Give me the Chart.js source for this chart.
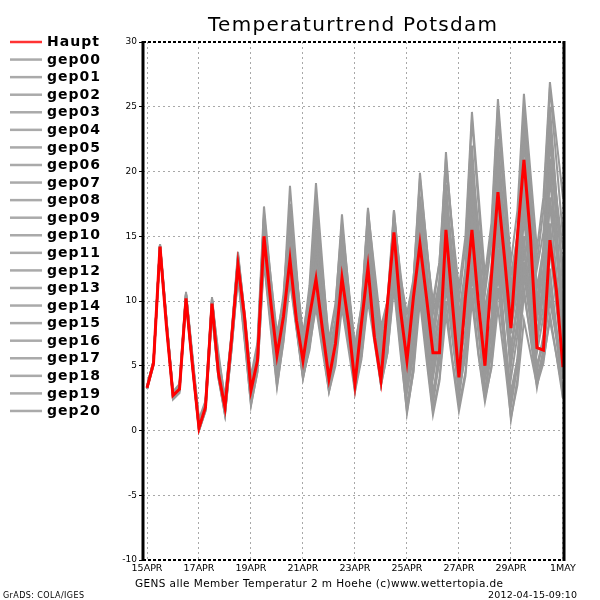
<!DOCTYPE html>
<html>
<head>
<meta charset="utf-8">
<title>Temperaturtrend Potsdam</title>
<script src="https://cdn.jsdelivr.net/npm/chart.js@4.4.1/dist/chart.umd.min.js"></script>
<style>
  html, body { margin: 0; padding: 0; background: #fff; }
  #wrap { width: 600px; height: 600px; position: relative; }
</style>
</head>
<body>
<div id="wrap"><canvas id="myChart"></canvas></div>
<script>
// Stunden ab 15APR 00Z, 6-stuendlich
const hours = [0,6,12,18,24,30,36,42,48,54,60,66,72,78,84,90,96,102,108,114,120,126,132,138,144,150,156,162,168,174,180,186,192,198,204,210,216,222,228,234,240,246,252,258,264,270,276,282,288,294,300,306,312,318,324,330,336,342,348,354,360,366,372,378,384];
const tickHours = [0,48,96,144,192,240,288,336,384];
const tickLabels = ['15APR','17APR','19APR','21APR','23APR','25APR','27APR','29APR','1MAY'];

const haupt = [3.3,5.2,14.2,8.0, 2.7,3.2,10.2,5.0, 0.2,1.8,9.8,4.4, 1.8,7.0,12.8,8.8, 3.1,5.4,15.0,10.1, 5.8,8.8,13.2,8.5, 5.4,8.8,11.7,7.8, 4.0,6.7,11.8,8.3, 3.6,8.3,12.6,7.2, 3.9,9.8,15.3,9.3, 5.4,10.3,14.4,10.3, 6.0,6.0,15.5,9.8, 4.1,10.3,15.5,9.8, 5.0,11.9,18.4,13.4, 7.9,15.0,20.9,15.0, 6.4,6.2,14.7,10.8, 4.9];
const gep00 = [3.3,5.2,14.3,8.1, 2.8,3.3,10.4,5.2, 0.4,2.0,10.0,4.6, 1.6,6.8,13.0,8.6, 3.0,5.6,15.6,10.4, 5.5,8.5,14.0,9.5, 5.0,7.5,12.5,8.5, 4.5,7.0,13.0,8.5, 4.0,7.0,13.8,9.4, 5.0,8.0,14.5,10.2, 6.0,9.0,15.8,10.6, 5.5,8.0,17.0,11.5, 6.0,9.0,16.5,11.7, 7.0,10.5,19.5,14.0, 8.5,11.5,18.0,12.5, 7.0,9.5,16.0,11.0, 6.0];
const gep01 = [3.4,5.3,14.2,8.2, 2.6,3.2,10.6,5.4, 0.5,1.9,9.6,4.8, 2.2,7.3,13.4,8.9, 3.8,6.2,16.8,11.5, 6.5,9.8,17.5,12.0, 6.5,10.0,18.0,11.8, 5.5,8.5,15.5,10.8, 6.0,9.0,16.0,11.8, 7.5,10.0,16.5,12.2, 8.0,11.5,19.5,14.5, 9.5,13.0,21.0,15.5, 10.0,14.2,24.0,17.5, 11.0,15.2,25.0,18.5, 12.0,15.0,22.0,17.5, 13.0,17.0,26.5,20.8, 15.0];
const gep02 = [3.2,5.1,14.0,8.2, 2.5,3.1,10.0,5.0, 0.1,1.6,9.2,4.2, 1.3,6.5,12.2,7.4, 2.2,5.0,13.5,8.5, 4.0,7.5,12.0,8.0, 4.5,7.0,10.0,6.5, 3.2,5.5,10.5,7.0, 3.2,5.8,11.0,7.2, 3.8,6.5,12.0,7.0, 2.0,5.0,11.0,6.0, 1.5,4.0,10.0,5.5, 2.0,4.5,11.0,6.0, 2.5,4.8,9.5,5.5, 1.0,3.5,8.5,6.0, 3.5,5.2,9.0,5.8, 2.5];
const gep03 = [3.3,5.3,14.4,8.4, 2.9,3.4,10.3,5.5, 0.6,2.1,10.2,5.0, 2.5,7.2,13.6,9.0, 3.5,6.0,16.2,11.5, 6.8,10.0,18.9,12.5, 6.0,9.5,15.0,10.0, 5.0,8.0,14.0,9.2, 4.5,7.0,12.5,8.5, 6.0,9.0,16.0,11.5, 7.0,10.0,17.0,11.8, 6.5,9.0,14.0,10.5, 7.5,10.8,18.5,13.8, 9.0,12.6,21.0,15.5, 10.0,14.2,24.0,16.5, 9.0,12.5,20.0,15.0, 10.0];
const gep04 = [3.2,5.1,14.1,8.0, 2.6,3.1,10.1,4.9, 0.0,1.6,9.4,4.2, 1.2,6.3,12.0,7.6, 2.5,5.2,14.0,9.5, 5.0,8.0,12.5,8.7, 4.8,7.0,11.0,7.2, 3.5,6.2,12.5,7.8, 3.0,6.6,15.0,9.5, 4.0,7.0,13.5,8.2, 3.0,6.0,12.5,7.5, 2.5,6.5,16.0,9.8, 3.5,6.6,14.0,9.2, 5.0,8.8,17.5,10.8, 4.0,7.3,15.0,10.0, 5.0,7.1,12.0,8.0, 4.0];
const gep05 = [3.4,5.4,14.3,8.3, 2.7,3.3,10.5,5.3, 0.3,1.9,10.1,5.0, 2.0,7.1,13.2,8.6, 3.3,5.8,15.2,10.5, 6.0,9.6,15.0,11.0, 7.0,11.2,19.1,12.8, 6.5,9.5,16.7,11.0, 5.5,8.0,14.0,10.0, 6.5,9.0,15.0,11.0, 7.5,10.6,18.0,12.8, 8.0,11.3,19.0,13.5, 9.0,12.5,20.5,15.8, 10.5,14.5,24.0,17.5, 11.0,15.2,25.0,18.8, 12.5,15.3,22.0,18.0, 14.0];
const gep06 = [3.3,5.2,14.2,8.0, 2.7,3.2,10.2,5.1, 0.2,1.8,9.7,4.5, 1.6,6.8,12.6,8.0, 2.8,5.5,14.6,9.8, 4.6,8.0,13.5,9.4, 5.2,8.0,12.0,7.8, 3.5,5.8,11.0,7.5, 4.0,6.5,12.0,8.2, 4.5,7.8,14.0,8.8, 3.5,6.5,13.0,7.8, 2.5,5.5,12.0,7.5, 3.0,6.2,13.5,8.8, 4.0,6.5,12.0,7.5, 3.0,5.5,10.5,7.5, 4.5,7.4,14.0,9.5, 5.0];
const gep07 = [3.3,5.1,14.0,8.4, 2.9,3.4,10.4,5.5, 0.5,2.0,9.9,6.0, 2.3,7.2,13.0,8.3, 3.6,6.0,15.8,11.0, 6.2,9.5,16.0,10.8, 5.5,8.2,13.0,9.0, 4.8,7.0,12.0,8.5, 5.0,8.8,17.2,12.0, 7.0,10.0,17.0,11.8, 6.5,9.2,15.5,11.2, 7.0,10.3,18.0,13.0, 8.0,12.2,22.0,14.8, 7.5,11.0,19.0,13.5, 8.0,10.7,17.0,12.0, 7.0,10.8,19.5,14.0, 8.5];
const gep08 = [3.2,5.2,14.3,8.3, 2.5,3.0,10.0,5.0, 0.0,1.5,9.0,4.0, 1.4,6.2,11.8,7.0, 2.0,4.5,13.2,8.5, 3.5,6.8,11.5,7.8, 4.0,6.5,9.5,6.2, 3.0,5.0,9.5,6.3, 3.0,5.5,10.0,6.8, 3.5,6.0,11.0,6.0, 1.5,4.5,10.0,5.5, 1.2,3.8,9.0,5.2, 1.5,4.2,10.0,5.8, 2.2,5.0,11.0,6.5, 2.5,5.5,13.0,8.5, 4.0,6.2,11.0,7.0, 3.0];
const gep09 = [3.3,5.2,14.2,8.2, 2.8,3.3,10.3,5.4, 0.4,1.9,10.0,5.2, 2.0,7.1,13.5,9.2, 4.2,6.8,17.3,12.0, 7.0,10.5,17.0,12.0, 6.8,10.0,16.5,11.0, 6.0,8.5,14.5,9.8, 5.0,8.0,15.5,10.5, 5.5,7.5,12.0,10.0, 8.0,11.5,19.9,14.5, 9.0,11.5,17.5,12.3, 7.0,10.0,16.0,11.5, 8.0,11.6,20.0,14.5, 9.0,12.0,19.0,14.5, 10.0,14.2,24.0,18.0, 12.0];
const gep10 = [3.4,5.3,14.4,8.6, 3.0,3.6,10.7,5.8, 0.9,2.3,10.3,5.6, 2.6,7.5,13.8,9.0, 3.9,6.5,16.5,12.0, 7.5,10.0,15.5,10.8, 6.0,9.0,14.0,9.5, 5.0,8.0,15.0,10.8, 6.5,9.5,16.5,11.2, 6.0,9.0,15.5,10.5, 5.5,8.8,16.5,12.0, 7.5,11.6,21.5,15.0, 8.5,12.0,20.0,14.2, 9.5,12.0,18.0,13.0, 8.0,12.0,21.0,14.2, 7.5,10.5,17.5,12.2, 7.0];
const gep11 = [3.2,5.1,14.1,8.3, 2.6,3.1,10.0,5.0, 0.1,1.7,9.3,4.3, 1.4,6.5,12.4,7.6, 2.6,5.2,14.2,9.0, 4.2,7.5,13.0,8.8, 4.5,6.8,10.5,6.8, 3.0,5.5,11.5,7.5, 3.5,5.8,10.5,7.2, 4.0,7.0,13.0,8.0, 3.0,5.8,11.5,6.8, 2.0,5.5,13.0,7.8, 2.5,6.3,15.0,8.8, 3.0,6.5,14.0,7.8, 1.8,5.0,12.0,8.5, 5.0,6.6,10.0,7.2, 4.5];
const gep12 = [3.3,5.2,14.2,8.3, 2.8,3.3,10.5,5.4, 0.3,1.9,9.8,4.9, 1.9,7.0,13.1,8.2, 3.2,5.6,15.4,10.5, 5.6,9.0,14.5,10.0, 5.8,8.8,13.5,9.0, 4.5,7.2,13.5,9.0, 4.5,7.5,14.5,9.8, 5.0,8.5,16.0,10.2, 4.5,7.5,14.0,9.5, 5.0,8.0,15.0,10.2, 5.5,9.2,18.0,12.2, 6.5,11.0,21.5,14.5, 7.5,12.0,23.0,16.0, 9.0,13.8,25.0,18.0, 11.0];
const gep13 = [3.3,5.3,14.3,8.2, 2.7,3.3,10.4,5.2, 0.3,1.9,9.6,4.6, 1.8,6.9,12.9,8.0, 3.1,5.5,15.0,10.5, 6.0,9.2,16.5,12.0, 7.5,10.5,17.0,12.2, 7.0,9.8,16.0,11.2, 6.5,9.6,17.0,12.5, 8.0,10.0,14.5,11.8, 9.0,11.7,18.0,14.0, 10.0,13.0,20.0,15.5, 11.0,15.0,24.6,18.3, 12.0,16.0,25.6,19.3, 13.0,17.0,26.0,20.0, 14.0,18.0,26.9,22.5, 18.0];
const gep14 = [3.2,5.0,14.0,8.0, 2.4,2.9,9.9,4.8, 0.0,1.5,9.1,4.0, 1.2,6.2,12.1,7.2, 1.9,4.6,13.0,8.0, 3.3,7.0,12.5,8.0, 4.0,6.5,11.5,7.5, 3.5,5.5,10.5,7.0, 3.3,5.8,11.5,7.5, 3.5,6.0,11.5,6.5, 1.3,4.6,12.5,7.5, 3.0,5.5,11.0,7.0, 3.0,5.8,12.0,7.5, 2.8,6.0,13.0,7.0, 0.8,4.0,11.0,7.2, 3.3,6.2,12.5,7.5, 2.5];
const gep15 = [3.4,5.4,14.3,8.5, 2.9,3.5,10.6,5.6, 0.7,2.2,10.2,5.3, 2.4,7.3,13.3,8.5, 3.4,6.0,16.0,11.0, 6.3,9.3,14.8,10.5, 6.2,8.6,12.8,9.0, 5.2,8.0,14.0,9.8, 5.5,8.0,13.0,9.2, 5.5,9.0,17.0,11.5, 6.0,9.2,16.0,11.5, 7.0,10.5,18.5,12.8, 6.5,9.8,17.0,12.5, 8.0,12.3,22.5,16.0, 9.5,12.8,20.0,14.2, 8.5,11.3,18.0,13.8, 9.5];
const gep16 = [3.3,5.1,14.1,8.1, 2.6,3.2,10.2,5.0, 0.2,1.8,9.5,4.5, 1.5,6.6,12.5,7.8, 2.4,5.0,14.4,9.5, 4.4,7.5,12.0,8.0, 4.2,6.2,10.0,7.0, 3.8,6.5,12.0,7.8, 3.8,6.5,12.0,7.8, 3.6,6.8,12.5,8.2, 4.0,7.0,14.0,9.0, 4.0,7.2,13.5,8.8, 4.0,6.8,12.5,8.2, 4.5,8.0,15.0,9.8, 5.0,8.5,16.5,11.0, 6.0,8.8,15.5,11.0, 6.5];
const gep17 = [3.3,5.2,14.2,8.4, 2.8,3.3,10.3,5.3, 0.4,2.0,9.9,5.0, 2.1,7.0,13.0,8.2, 3.3,5.8,15.2,10.8, 6.4,9.5,16.8,11.8, 6.5,9.2,15.5,10.5, 5.8,8.0,13.5,9.5, 5.2,8.0,14.0,10.0, 6.2,8.8,15.0,10.5, 7.0,10.2,17.5,12.5, 8.0,10.5,16.5,12.0, 7.5,11.0,19.0,13.2, 8.5,11.5,18.5,14.5, 10.5,14.8,25.0,18.0, 11.0,14.0,21.0,16.8, 12.5];
const gep18 = [3.4,5.3,14.4,8.6, 2.9,3.5,10.5,5.6, 0.6,2.1,10.1,5.2, 2.2,7.1,13.4,8.6, 3.5,6.0,15.9,10.5, 5.2,8.5,14.2,9.5, 4.6,7.0,11.0,7.0, 3.2,5.5,10.5,7.0, 3.5,6.5,13.0,8.5, 4.2,7.0,13.5,9.2, 5.0,8.0,15.0,9.8, 4.5,7.5,14.5,9.0, 3.5,6.5,13.0,8.2, 4.0,7.5,16.0,10.8, 5.5,8.0,14.0,9.0, 4.0,5.5,8.5,5.8, 3.0];
const gep19 = [3.3,5.2,14.2,8.3, 2.7,3.2,10.1,5.0, 0.2,1.8,9.7,4.6, 1.7,6.8,12.7,7.8, 3.0,5.3,14.8,10.2, 5.9,8.8,14.5,10.0, 5.6,8.5,14.0,9.0, 4.2,6.8,12.5,8.5, 4.8,8.0,15.5,10.0, 5.0,8.2,14.0,9.5, 5.0,8.0,13.5,9.8, 6.0,8.8,15.0,10.5, 6.0,10.5,21.0,13.5, 7.0,10.2,17.0,11.8, 6.5,10.0,18.5,12.8, 7.0,11.0,20.5,14.2, 8.0];
const gep20 = [3.3,5.3,14.3,8.5, 2.8,3.4,10.6,5.5, 0.5,2.0,10.0,5.2, 2.0,7.0,13.2,8.5, 3.7,6.2,16.4,11.5, 6.6,9.5,15.8,11.0, 6.0,8.5,13.8,9.2, 4.5,7.0,12.8,8.5, 4.2,7.0,13.5,8.8, 4.5,8.0,16.5,10.0, 3.5,6.5,13.0,8.8, 4.5,7.0,12.5,8.6, 4.8,7.8,14.5,10.0, 5.5,8.0,13.5,9.8, 6.0,9.5,17.5,12.0, 6.5,12.0,23.0,16.0, 9.0];

const seriesNames = ['Haupt','gep00','gep01','gep02','gep03','gep04','gep05','gep06','gep07','gep08','gep09',
                     'gep10','gep11','gep12','gep13','gep14','gep15','gep16','gep17','gep18','gep19','gep20'];
const seriesValues = [haupt, gep00, gep01, gep02, gep03, gep04, gep05, gep06, gep07, gep08, gep09,
                      gep10, gep11, gep12, gep13, gep14, gep15, gep16, gep17, gep18, gep19, gep20];

const FONT = '"DejaVu Sans", sans-serif';

// Text auf eine feste Breite ziehen (GrADS-Schrift ist breiter)
function fitText(ctx, text, x, y, width) {
    ctx.letterSpacing = '0px';
    const w = ctx.measureText(text).width;
    ctx.letterSpacing = ((width - w) / (text.length - 1)) + 'px';
    ctx.textAlign = 'left';
    ctx.fillText(text, x, y);
    ctx.letterSpacing = '0px';
}

const gradsDeko = {
    id: 'gradsDeko',
    afterDraw(chart) {
        const {ctx, chartArea: a} = chart;
        ctx.save();

        // Rahmen
        ctx.strokeStyle = '#000';
        ctx.lineWidth = 2;
        ctx.setLineDash([3, 2]);
        ctx.beginPath();
        ctx.moveTo(a.left, a.top); ctx.lineTo(a.right, a.top);
        ctx.moveTo(a.left, a.bottom); ctx.lineTo(a.right, a.bottom);
        ctx.stroke();
        ctx.setLineDash([]);
        ctx.lineWidth = 3;
        ctx.beginPath();
        ctx.moveTo(a.left, a.top - 1); ctx.lineTo(a.left, a.bottom + 1);
        ctx.moveTo(a.right, a.top - 1); ctx.lineTo(a.right, a.bottom + 1);
        ctx.stroke();

        // Legende links
        ctx.textBaseline = 'middle';
        ctx.font = 'bold 14px ' + FONT;
        chart.data.datasets.forEach((ds, i) => {
            const y = 42 + i * 17.57;
            ctx.strokeStyle = i === 0 ? '#ff3333' : '#aaaaaa';
            ctx.lineWidth = 2.5;
            ctx.beginPath();
            ctx.moveTo(10, y); ctx.lineTo(42, y);
            ctx.stroke();
            ctx.fillStyle = '#000';
            ctx.letterSpacing = '1px';
            ctx.fillText(ds.label, 47, y + 0.5);
        });
        ctx.letterSpacing = '0px';

        // Titel und Fusszeilen
        ctx.fillStyle = '#000';
        ctx.textBaseline = 'alphabetic';
        ctx.font = '20px ' + FONT;
        fitText(ctx, 'Temperaturtrend Potsdam', 208, 31, 289);
        ctx.font = '10.5px ' + FONT;
        fitText(ctx, 'GENS alle Member Temperatur 2 m Hoehe (c)www.wettertopia.de', 135, 587, 368);
        ctx.font = '9.5px ' + FONT;
        fitText(ctx, '2012-04-15-09:10', 488, 598, 89);
        ctx.font = '8px ' + FONT;
        fitText(ctx, 'GrADS: COLA/IGES', 3, 598, 81);

        ctx.restore();
    }
};

const data = {
    labels: hours,
    datasets: seriesNames.map((name, i) => ({
        label: name,
        data: seriesValues[i],
        borderColor: i === 0 ? '#ff0000' : '#999999',
        borderWidth: i === 0 ? 3 : 2,
        pointRadius: 0,
        tension: 0,
        fill: false
    }))
};

const options = {
    responsive: true,
    maintainAspectRatio: false,
    animation: false,
    layout: { padding: { top: 42, right: 36, left: 0, bottom: 0 } },
    plugins: {
        legend: { display: false },
        tooltip: { enabled: false },
        title: { display: false }
    },
    scales: {
        x: {
            type: 'linear',
            min: -3.7,
            max: 385,
            afterFit: function(scale) { scale.height = 40; },
            afterBuildTicks: function(scale) {
                scale.ticks = tickHours.map(h => ({ value: h }));
            },
            grid: {
                color: '#a8a8a8',
                lineWidth: 1,
                drawTicks: false
            },
            border: { display: false, dash: [2, 3] },
            ticks: {
                autoSkip: false,
                maxRotation: 0,
                padding: 3,
                color: '#000',
                font: { family: FONT, size: 9.5 },
                callback: function(v, i) { return tickLabels[i]; }
            }
        },
        y: {
            min: -10,
            max: 30,
            afterFit: function(scale) { scale.width = 143; },
            grid: {
                color: '#a8a8a8',
                lineWidth: 1,
                tickColor: '#000',
                tickLength: 4,
                tickBorderDash: []
            },
            border: { display: false, dash: [2, 3] },
            ticks: {
                stepSize: 5,
                padding: 2,
                color: '#000',
                font: { family: FONT, size: 9 }
            }
        }
    }
};

const ctx = document.getElementById('myChart').getContext('2d');
new Chart(ctx, {
    type: 'line',
    data: data,
    options: options,
    plugins: [gradsDeko]
});
</script>
</body>
</html>
